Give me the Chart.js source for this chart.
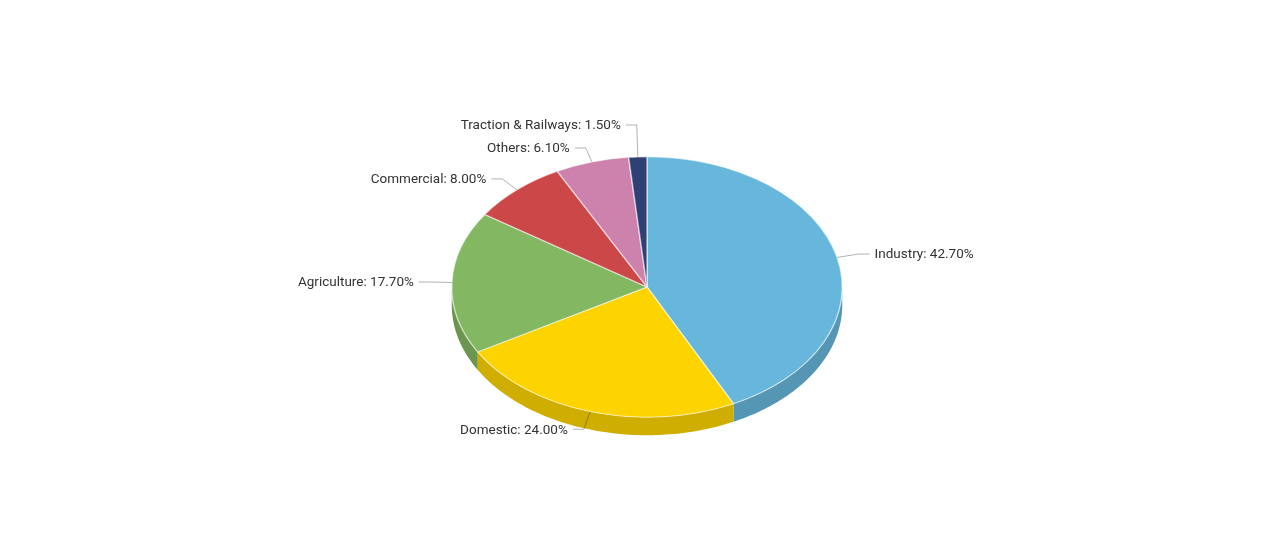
<!DOCTYPE html>
<html>
<head>
<meta charset="utf-8">
<script src="https://cdn.jsdelivr.net/npm/chart.js@4.4.1/dist/chart.umd.min.js"></script>
<style>
  html, body { margin: 0; padding: 0; background: #fff; }
  #wrap { width: 1275px; height: 546px; position: relative; }
</style>
</head>
<body>
<div id="wrap"><canvas id="pie"></canvas></div>
<script>
// Electricity consumption by sector
var labels = ["Industry", "Domestic", "Agriculture", "Commercial", "Others", "Traction & Railways"];
var shares = [42.7, 24.0, 17.7, 8.0, 6.1, 1.5];
var colors = ["#67b7dc", "#fdd400", "#84b761", "#cc4748", "#cd82ad", "#2f4074"];

var tilt = 0.667;  // vertical squash for the 3d look
var depth = 18;    // thickness of the pie side

function shade(hex, f) {
    var n = parseInt(hex.slice(1), 16);
    var r = Math.round(((n >> 16) & 255) * f),
        g = Math.round(((n >> 8) & 255) * f),
        b = Math.round((n & 255) * f);
    return "rgb(" + r + "," + g + "," + b + ")";
}

var pie3d = {
    id: 'pie3d',
    beforeDatasetsDraw: function (chart) {
        var ctx = chart.ctx;
        var arcs = chart.getDatasetMeta(0).data;
        // front side of every slice, only the part facing the viewer
        arcs.forEach(function (arc, i) {
            var a = Math.max(arc.startAngle, 0), b = Math.min(arc.endAngle, Math.PI);
            if (b <= a) return;
            var r = arc.outerRadius, n = 80, k, t;
            ctx.beginPath();
            for (k = 0; k <= n; k++) {
                t = a + (b - a) * k / n;
                ctx.lineTo(arc.x + r * Math.cos(t), arc.y + tilt * r * Math.sin(t));
            }
            for (k = n; k >= 0; k--) {
                t = a + (b - a) * k / n;
                ctx.lineTo(arc.x + r * Math.cos(t), arc.y + tilt * r * Math.sin(t) + depth);
            }
            ctx.closePath();
            ctx.fillStyle = shade(colors[i], 0.82);
            ctx.fill();
        });
        // squash the top face
        var cy = arcs[0].y;
        ctx.save();
        ctx.translate(0, cy);
        ctx.scale(1, tilt);
        ctx.translate(0, -cy);
    },
    afterDatasetsDraw: function (chart) {
        var ctx = chart.ctx;
        ctx.restore();
        var arcs = chart.getDatasetMeta(0).data;
        var items = arcs.map(function (arc, i) {
            var mid = (arc.startAngle + arc.endAngle) / 2;
            var r = arc.outerRadius, r2 = r + 22;
            var sin = Math.sin(mid);
            return {
                i: i,
                right: Math.cos(mid) >= 0,
                upper: sin < 0,
                x0: arc.x + r * Math.cos(mid),
                y0: arc.y + tilt * r * sin,
                x1: arc.x + r2 * Math.cos(mid),
                // labels of the front half sit a bit lower, past the side
                y1: arc.y + tilt * r2 * sin + (sin > 0 ? depth * 0.2 : 0)
            };
        });
        // keep labels apart
        var gap = 23;
        [true, false].forEach(function (right) {
            var up = items.filter(function (d) { return d.right === right && d.upper; })
                .sort(function (p, q) { return q.y1 - p.y1; });
            for (var k = 1; k < up.length; k++) up[k].y1 = Math.min(up[k].y1, up[k - 1].y1 - gap);
            var down = items.filter(function (d) { return d.right === right && !d.upper; })
                .sort(function (p, q) { return p.y1 - q.y1; });
            for (var k = 1; k < down.length; k++) down[k].y1 = Math.max(down[k].y1, down[k - 1].y1 + gap);
        });
        ctx.save();
        ctx.font = "13.5px Roboto";
        ctx.textBaseline = "middle";
        items.forEach(function (d) {
            var dir = d.right ? 1 : -1;
            var x2 = d.x1 + dir * 11;
            ctx.strokeStyle = "rgba(0,0,0,0.3)";
            ctx.lineWidth = 1;
            ctx.beginPath();
            ctx.moveTo(d.x0, d.y0);
            ctx.lineTo(d.x1, d.y1);
            ctx.lineTo(x2, d.y1);
            ctx.stroke();
            ctx.fillStyle = "#333";
            ctx.textAlign = d.right ? "left" : "right";
            ctx.fillText(labels[d.i] + ": " + shares[d.i].toFixed(2) + "%", x2 + dir * 5, d.y1 + 1);
        });
        ctx.restore();
    }
};

var chart = new Chart(document.getElementById("pie"), {
    type: 'pie',
    data: {
        labels: labels,
        datasets: [{
            data: shares,
            backgroundColor: colors,
            borderColor: "rgba(255,255,255,0.55)",
            borderWidth: 1.5
        }]
    },
    options: {
        responsive: true,
        maintainAspectRatio: false,
        animation: false,
        layout: { padding: { left: 451, right: 432, top: 91, bottom: 63 } },
        plugins: {
            legend: { display: false },
            tooltip: { enabled: false }
        }
    },
    plugins: [pie3d]
});
</script>
</body>
</html>
